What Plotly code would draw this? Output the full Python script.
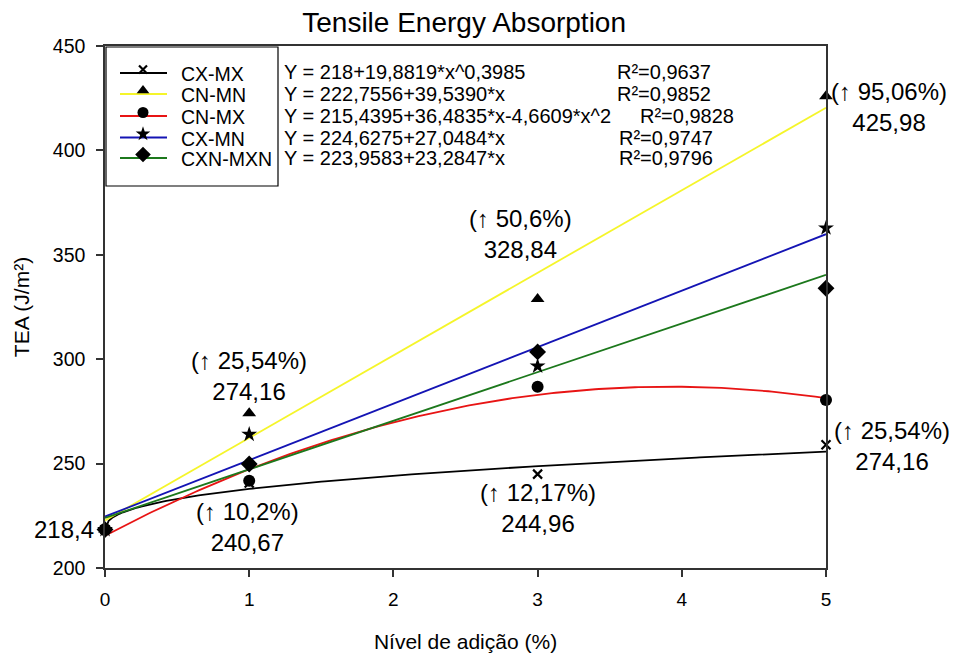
import numpy as np
import plotly.graph_objects as go

# ---- data ----
levels = [0, 1, 3, 5]
series_names = ["CX-MX", "CN-MN", "CN-MX", "CX-MN", "CXN-MXN"]
cx_mx = [218.4, 240.67, 244.96, 259.0]
cn_mn = [218.4, 274.16, 328.84, 425.98]
cn_mx = [218.4, 241.8, 286.8, 280.5]
cx_mn = [218.4, 264.0, 296.7, 362.8]
cxn_mxn = [218.4, 249.8, 303.5, 334.0]

# regression coefficients shown on the chart
fit_cx_mx = [218.0, 19.8819, 0.3985]          # a + b*x^c
fit_cn_mn = [222.7556, 39.5390]                # a + b*x
fit_cn_mx = [215.4395, 36.4835, -4.6609]       # a + b*x + c*x^2
fit_cx_mn = [224.6275, 27.0484]
fit_cxn_mxn = [223.9583, 23.2847]

equations = ["Y = 218+19,8819*x^0,3985", "Y = 222,7556+39,5390*x",
             "Y = 215,4395+36,4835*x-4,6609*x^2", "Y = 224,6275+27,0484*x",
             "Y = 223,9583+23,2847*x"]
r2_labels = ["R²=0,9637", "R²=0,9852", "R²=0,9828", "R²=0,9747", "R²=0,9796"]

# text labels: (x, y in data units, text)
point_labels = [
    (1.0, 292.0, "(↑ 25,54%)<br>274,16"),
    (2.88, 360.0, "(↑ 50,6%)<br>328,84"),
    (5.44, 421.0, "(↑ 95,06%)<br>425,98"),
    (5.46, 258.5, "(↑ 25,54%)<br>274,16"),
    (3.0, 228.5, "(↑ 12,17%)<br>244,96"),
    (0.99, 219.8, "(↑ 10,2%)<br>240,67"),
]
start_label = "218,4"

colors = ["#000000", "#f5f52a", "#e81414", "#1414b4", "#1c781c"]
symbols = ["x-thin", "triangle-up", "circle", "star", "diamond"]
msizes = [9, 12, 12, 12, 13]

XR = [0, 5]
YR = [200, 450]

xf = np.linspace(0, 5, 201)
fits = [
    fit_cx_mx[0] + fit_cx_mx[1] * xf ** fit_cx_mx[2],
    fit_cn_mn[0] + fit_cn_mn[1] * xf,
    fit_cn_mx[0] + fit_cn_mx[1] * xf + fit_cn_mx[2] * xf ** 2,
    fit_cx_mn[0] + fit_cx_mn[1] * xf,
    fit_cxn_mxn[0] + fit_cxn_mxn[1] * xf,
]
data = [cx_mx, cn_mn, cn_mx, cx_mn, cxn_mxn]

# plot area in pixels
L, R, T, B = 105, 826, 46, 568
def px(xp):
    return (xp - L) / (R - L)
def py(yp):
    return (B - yp) / (B - T)
def dx(xp):
    return XR[0] + px(xp) * (XR[1] - XR[0])
def dy(yp):
    return YR[0] + py(yp) * (YR[1] - YR[0])

font = "Liberation Sans, Arial, DejaVu Sans, sans-serif"

fig = go.Figure()
for i, name in enumerate(series_names):
    fig.add_trace(go.Scatter(x=xf, y=fits[i], mode="lines", showlegend=False, name=name,
                             line=dict(color=colors[i], width=1.8), hoverinfo="skip"))
for i, name in enumerate(series_names):
    mk = dict(symbol=symbols[i], size=msizes[i], color="black",
              line=dict(color="black", width=2.2 if i == 0 else 0))
    fig.add_trace(go.Scatter(x=levels, y=data[i], mode="markers", showlegend=False, name=name,
                             marker=mk, cliponaxis=False))

# ---- hand-built legend (box, coloured lines, symbols, names) ----
row_y = [73, 94, 116, 137.5, 158]
shapes = [dict(type="rect", xref="paper", yref="paper", x0=px(106), x1=px(278),
               y0=py(186), y1=py(47), line=dict(color="black", width=1.2))]
for i in range(5):
    fig.add_trace(go.Scatter(x=[dx(120), dx(167)], y=[dy(row_y[i])] * 2, mode="lines",
                             showlegend=False, hoverinfo="skip",
                             line=dict(color=colors[i], width=2)))
for i in range(5):
    fig.add_trace(go.Scatter(
        x=[dx(143)], y=[dy(row_y[i] - 3.5)], mode="markers", showlegend=False,
        hoverinfo="skip",
        marker=dict(symbol=symbols[i], size=msizes[i] - 1, color="black",
                    line=dict(color="black", width=2.2 if i == 0 else 0))))

ann = []
for i in range(5):
    ann.append(dict(x=px(179), y=py(row_y[i] + 1), xref="paper", yref="paper",
                    text=series_names[i], showarrow=False, xanchor="left", yanchor="middle",
                    font=dict(size=19.5, color="black", family=font)))
eq_y = [72, 93.5, 115.5, 137.5, 158]
for i in range(5):
    ann.append(dict(x=px(282), y=py(eq_y[i]), xref="paper", yref="paper", text=equations[i],
                    showarrow=False, xanchor="left", yanchor="middle",
                    font=dict(size=20, color="black", family=font)))
r2x = [615, 615, 638, 617, 617]
for i in range(5):
    ann.append(dict(x=px(r2x[i]), y=py(eq_y[i]), xref="paper", yref="paper", text=r2_labels[i],
                    showarrow=False, xanchor="left", yanchor="middle",
                    font=dict(size=20, color="black", family=font)))
for (lx, ly, t) in point_labels:
    ann.append(dict(x=(lx - XR[0]) / (XR[1] - XR[0]), y=(ly - YR[0]) / (YR[1] - YR[0]),
                    xref="paper", yref="paper", text=t, showarrow=False,
                    xanchor="center", yanchor="middle",
                    font=dict(size=24, color="black", family=font)))
ann.append(dict(x=-0.012, y=(cx_mx[0] - YR[0]) / (YR[1] - YR[0]), xref="paper", yref="paper",
                text=start_label, showarrow=False, xanchor="right", yanchor="middle",
                font=dict(size=24, color="black", family=font)))

fig.update_layout(
    width=955, height=653,
    margin=dict(l=L, r=955 - R, t=T, b=653 - B),
    paper_bgcolor="white", plot_bgcolor="white",
    title=dict(text="Tensile Energy Absorption", x=0.486, xanchor="center", y=0.966,
               yanchor="middle", font=dict(size=28, color="black", family=font)),
    font=dict(family=font, color="black"),
    showlegend=False,
    annotations=ann,
    shapes=shapes,
    xaxis=dict(range=XR, tickvals=[0, 1, 2, 3, 4, 5], showgrid=False, zeroline=False,
               showline=True, linecolor="#333333", linewidth=1.5, mirror=True,
               ticks="outside", ticklen=7, tickcolor="#333333", tickwidth=1.5,
               ticklabelstandoff=6, automargin=False,
               tickfont=dict(size=19, color="black", family=font),
               title=dict(text="Nível de adição (%)", standoff=28,
                          font=dict(size=21, color="black", family=font))),
    yaxis=dict(range=YR, tickvals=[200, 250, 300, 350, 400, 450], showgrid=False,
               zeroline=False, showline=True, linecolor="#333333", linewidth=1.5, mirror=True,
               ticks="outside", ticklen=7, tickcolor="#333333", tickwidth=1.5,
               ticklabelstandoff=7, automargin=False,
               tickfont=dict(size=19.5, color="black", family=font),
               title=dict(text="TEA (J/m²)", standoff=17,
                          font=dict(size=21, color="black", family=font))),
)

fig.write_html("out.html")
